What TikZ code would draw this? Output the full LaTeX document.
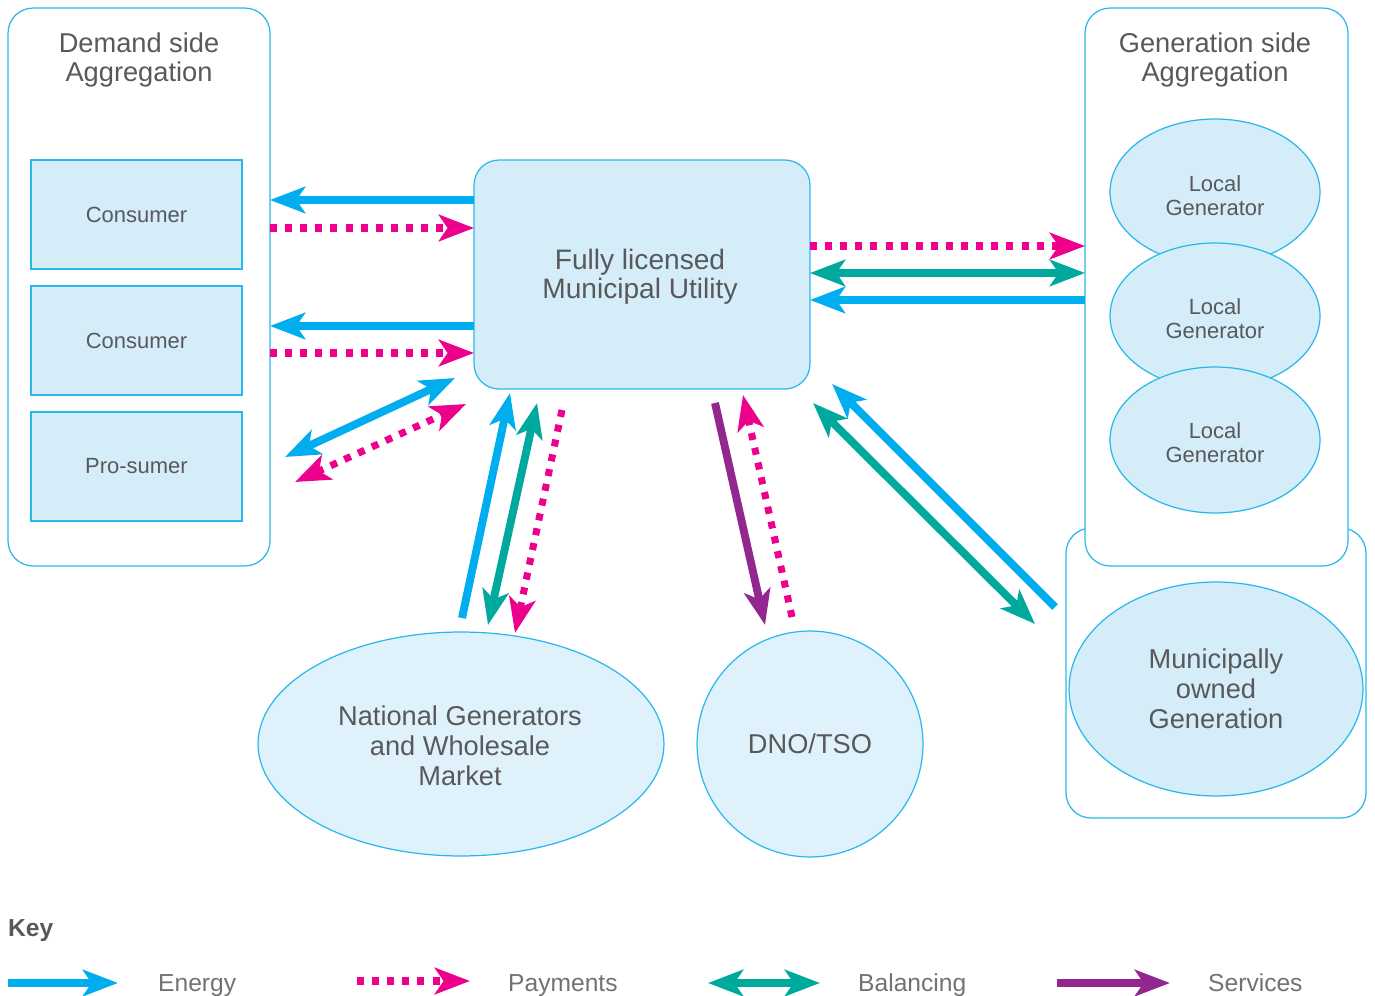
\documentclass[tikz,border=0pt]{standalone}
\usepackage{fontspec}
\setmainfont{Liberation Sans}
\usetikzlibrary{arrows.meta,shapes.geometric}

\definecolor{energyc}{HTML}{00AEEF}
\definecolor{paymentc}{HTML}{EC008C}
\definecolor{balancec}{HTML}{00A99D}
\definecolor{servicec}{HTML}{92278F}
\definecolor{boxline}{HTML}{29B8EC}
\definecolor{boxfill}{HTML}{D5EDF9}
\definecolor{ellfill}{HTML}{DFF2FB}
\definecolor{txt}{HTML}{58595B}

\tikzset{
  >={Stealth[length=20pt,width=15pt,inset=5pt]},
  group/.style={draw=boxline, line width=0.7pt, rounded corners=0.5cm, fill=white, inner sep=0pt, outer sep=0pt},
  actor/.style={draw=boxline, line width=0.7pt, fill=boxfill, inner sep=0pt, outer sep=0pt, text=txt, align=center},
  blob/.style={ellipse, draw=boxline, line width=0.7pt, fill=boxfill, inner sep=0pt, outer sep=0pt, text=txt, align=center},
  title/.style={text=txt, align=center, font=\fontsize{15.5}{17}\selectfont},
  small/.style={font=\fontsize{12.5}{13.7}\selectfont},
  big/.style={font=\fontsize{15.5}{17}\selectfont},
  energy/.style={draw=energyc, line width=4.5pt},
  payment/.style={draw=paymentc, line width=4pt, dash pattern=on 4pt off 4.6pt},
  balance/.style={draw=balancec, line width=4.5pt},
  service/.style={draw=servicec, line width=4.5pt},
  keytext/.style={anchor=base west, text=txt!85, font=\fontsize{14}{16}\selectfont}
}

\begin{document}
\begin{tikzpicture}[x=0.02cm, y=-0.02cm]
\useasboundingbox (0,0) rectangle (1375,996);

% Demand side
\node[group, minimum width=5.24cm, minimum height=11.16cm] (dem) at (139,287) {};
\node[title] (demt) at (139,60) {Demand side\\Aggregation};
\node[actor, small, minimum width=4.22cm, minimum height=2.18cm] (cons1) at (136.5,214.5) {\raisebox{-1pt}{Consumer}};
\node[actor, small, minimum width=4.22cm, minimum height=2.18cm] (cons2) at (136.5,340.5) {\raisebox{-1pt}{Consumer}};
\node[actor, small, minimum width=4.22cm, minimum height=2.18cm] (pros) at (136.5,466.5) {\raisebox{-1pt}{Pro-sumer}};

% Utility
\node[actor, rounded corners=0.5cm, minimum width=6.72cm, minimum height=4.58cm,
      font=\fontsize{16}{16.5}\selectfont] (util) at (642,274.5) {};
\node[text=txt, align=center, font=\fontsize{16}{16.5}\selectfont] (utilt) at (640,277) {Fully licensed\\Municipal Utility};

% Generation side
\node[group, minimum width=6.0cm, minimum height=5.8cm] (muni) at (1216,673) {};
\node[group, minimum width=5.26cm, minimum height=11.16cm] (gen) at (1216.5,287) {};
\node[title] (gent) at (1215,60) {Generation side\\Aggregation};
\node[blob, small, minimum width=4.2cm, minimum height=2.92cm] (lg1) at (1215,192) {};
\node[blob, small, minimum width=4.2cm, minimum height=2.92cm] (lg2) at (1215,316) {};
\node[blob, small, minimum width=4.2cm, minimum height=2.92cm] (lg3) at (1215,440) {};
\node[text=txt, align=center, small] (lg1t) at (1215,196) {Local\\Generator};
\node[text=txt, align=center, small] (lg2t) at (1215,319) {Local\\Generator};
\node[text=txt, align=center, small] (lg3t) at (1215,443) {Local\\Generator};
\node[blob, big, minimum width=5.88cm, minimum height=4.28cm] (mog) at (1216,689) {Municipally\\owned\\Generation};

% Bottom
\node[blob, big, fill=ellfill, minimum width=8.12cm, minimum height=4.48cm] (nat) at (461,744) {};
\node[text=txt, align=center, big] (natt) at (460,746) {National Generators\\and Wholesale\\Market};
\node[blob, big, fill=ellfill, minimum width=4.52cm, minimum height=4.52cm] (dno) at (810,744) {\raisebox{-2pt}{DNO/TSO}};

% Utility <-> demand side
\draw[energy, ->] (util.west |- 0,200) -- (dem.east |- 0,200);
\draw[payment, ->] (dem.east |- 0,228) -- (util.west |- 0,228);
\draw[energy, ->] (util.west |- 0,326) -- (dem.east |- 0,326);
\draw[payment, ->] (dem.east |- 0,353) -- (util.west |- 0,353);

\coordinate (pa) at (285,457);
\coordinate (pb) at (455,378);
\coordinate (pc) at (295,482);
\coordinate (pd) at (466,404);
\draw[energy, <->] (pa) -- (pb);
\draw[payment, <->] (pc) -- (pd);

% Utility <-> generation side
\draw[payment, ->] (util.east |- 0,246) -- (gen.west |- 0,246);
\draw[balance, <->] (util.east |- 0,273) -- (gen.west |- 0,273);
\draw[energy, ->] (gen.west |- 0,300) -- (util.east |- 0,300);

% Utility <-> national market
\coordinate (na) at (462,618);
\coordinate (nb) at (510,393);
\coordinate (nc) at (488,625);
\coordinate (nd) at (537,403);
\coordinate (ne) at (562,410);
\coordinate (nf) at (515,633);
\draw[energy, ->] (na) -- (nb);
\draw[balance, <->] (nc) -- (nd);
\draw[payment, ->] (ne) -- (nf);

% Utility <-> DNO/TSO
\coordinate (da) at (715,403);
\coordinate (db) at (765,625);
\coordinate (dc) at (792,617);
\coordinate (dd) at (743,395);
\draw[service, ->] (da) -- (db);
\draw[payment, ->] (dc) -- (dd);

% Utility <-> municipal generation
\coordinate (ma) at (1055,607);
\coordinate (mb) at (832,384);
\coordinate (mc) at (813,403);
\coordinate (md) at (1035,624);
\draw[energy, ->] (ma) -- (mb);
\draw[balance, <->] (mc) -- (md);

% Key
\node[anchor=base west, text=txt, font=\bfseries\fontsize{14}{16}\selectfont] (key) at (2,936) {Key};
\coordinate (k1a) at (8,983);   \coordinate (k1b) at (118,983);
\coordinate (k2a) at (357,981); \coordinate (k2b) at (470,981);
\coordinate (k3a) at (708,983); \coordinate (k3b) at (820,983);
\coordinate (k4a) at (1057,983); \coordinate (k4b) at (1170,983);
\draw[energy, ->] (k1a) -- (k1b);
\draw[payment, ->] (k2a) -- (k2b);
\draw[balance, <->] (k3a) -- (k3b);
\draw[service, ->] (k4a) -- (k4b);
\node[keytext] (kenergy) at (152,991) {Energy};
\node[keytext] (kpay) at (502,991) {Payments};
\node[keytext] (kbal) at (852,991) {Balancing};
\node[keytext] (kserv) at (1202,991) {Services};

\end{tikzpicture}
\end{document}
